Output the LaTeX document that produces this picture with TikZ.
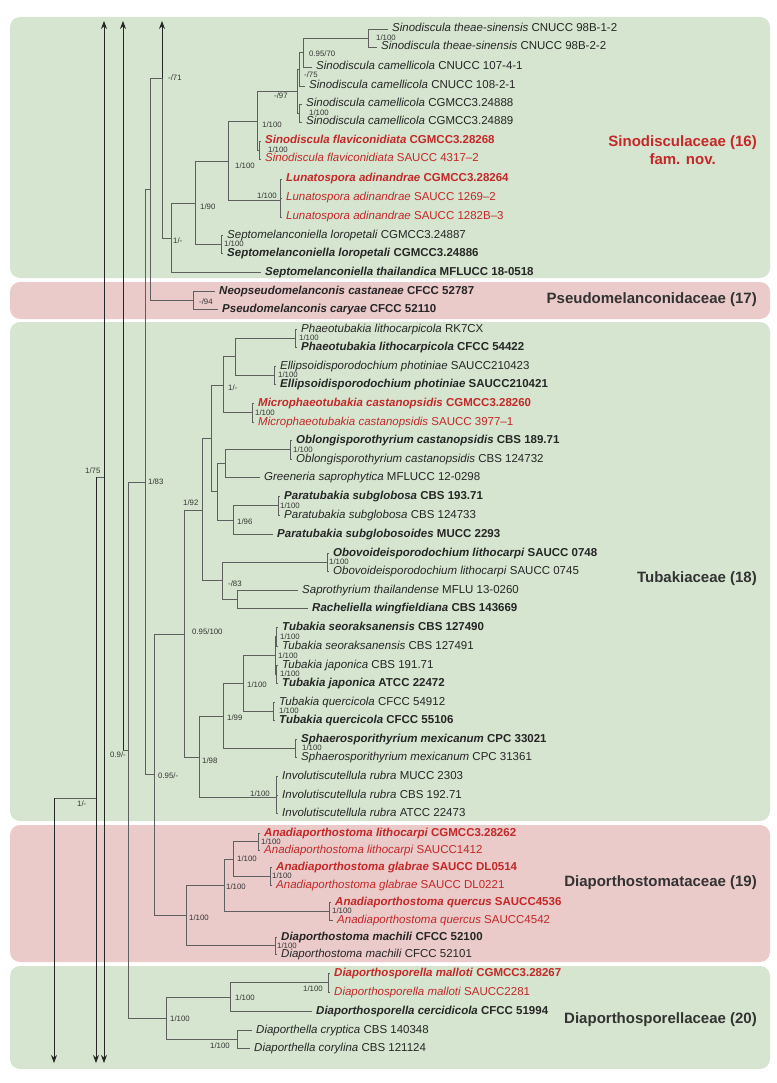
\documentclass[tikz,border=0pt]{standalone}
\usepackage{fontspec}
\setmainfont{Liberation Sans}
\usetikzlibrary{arrows.meta}
\definecolor{cladegreen}{RGB}{214,229,207}
\definecolor{cladepink}{RGB}{235,202,202}
\definecolor{newred}{RGB}{196,40,40}
\definecolor{branchgray}{RGB}{95,95,95}
\newcommand{\taxon}[2]{\textit{#1} #2}

\begin{document}
\begin{tikzpicture}[x=1pt,y=-1pt,
		branch/.style={draw=branchgray,line width=0.9pt},
		cut/.style={draw=black!85,line width=0.9pt,-{Stealth[length=8pt,width=6pt]}},
		tip/.style={anchor=west,inner xsep=4pt,inner ysep=0pt,text height=8pt,text depth=2pt,font=\fontsize{11.5}{13}\selectfont,text=black!85},
		tipb/.style={tip,font=\fontsize{11.5}{13}\selectfont\bfseries},
		tipr/.style={tip,text=newred},
		tiprb/.style={tipb,text=newred},
		bs/.style={anchor=west,inner sep=0pt,text height=5.6pt,text depth=0pt,font=\fontsize{7.8}{9}\selectfont,text=black!80},
		fam/.style={anchor=east,align=center,inner sep=0pt,font=\fontsize{15}{18}\selectfont\bfseries,text=black!80}]
		\useasboundingbox (0,0) rectangle (776,1083);

		% clade panels
		\fill[cladegreen,rounded corners=10pt] (10,17) rectangle (770,278);
		\fill[cladepink,rounded corners=10pt] (10,282) rectangle (770,319);
		\fill[cladegreen,rounded corners=10pt] (10,322) rectangle (770,821);
		\fill[cladepink,rounded corners=10pt] (10,825) rectangle (770,962);
		\fill[cladegreen,rounded corners=10pt] (10,966) rectangle (770,1069);

		% leaves
		\node[tip] (s1) at (388,29) {\taxon{Sinodiscula theae-sinensis}{CNUCC 98B-1-2}};
		\node[tip] (s2) at (377,47) {\taxon{Sinodiscula theae-sinensis}{CNUCC 98B-2-2}};
		\node[tip] (s3) at (312,67) {\taxon{Sinodiscula camellicola}{CNUCC 107-4-1}};
		\node[tip] (s4) at (305,86) {\taxon{Sinodiscula camellicola}{CNUCC 108-2-1}};
		\node[tip] (s5) at (302,104) {\taxon{Sinodiscula camellicola}{CGMCC3.24888}};
		\node[tip] (s6) at (302,122) {\taxon{Sinodiscula camellicola}{CGMCC3.24889}};
		\node[tiprb] (s7) at (261,141) {\taxon{Sinodiscula flaviconidiata}{CGMCC3.28268}};
		\node[tipr] (s8) at (261,159) {\taxon{Sinodiscula flaviconidiata}{SAUCC 4317–2}};
		\node[tiprb] (s9) at (282,179) {\taxon{Lunatospora adinandrae}{CGMCC3.28264}};
		\node[tipr] (s10) at (282,198) {\taxon{Lunatospora adinandrae}{SAUCC 1269–2}};
		\node[tipr] (s11) at (282,217) {\taxon{Lunatospora adinandrae}{SAUCC 1282B–3}};
		\node[tip] (s12) at (223,235) {\taxon{Septomelanconiella loropetali}{CGMCC3.24887}};
		\node[tipb] (s13) at (223,253) {\taxon{Septomelanconiella loropetali}{CGMCC3.24886}};
		\node[tipb] (s14) at (261,272) {\taxon{Septomelanconiella thailandica}{MFLUCC 18-0518}};
		\node[tipb] (s15) at (215,291) {\taxon{Neopseudomelanconis castaneae}{CFCC 52787}};
		\node[tipb] (s16) at (218,309) {\taxon{Pseudomelanconis caryae}{CFCC 52110}};
		\node[tip] (s17) at (297,329) {\taxon{Phaeotubakia lithocarpicola}{RK7CX}};
		\node[tipb] (s18) at (297,347) {\taxon{Phaeotubakia lithocarpicola}{CFCC 54422}};
		\node[tip] (s19) at (276,366) {\taxon{Ellipsoidisporodochium photiniae}{SAUCC210423}};
		\node[tipb] (s20) at (276,384) {\taxon{Ellipsoidisporodochium photiniae}{SAUCC210421}};
		\node[tiprb] (s21) at (254,403) {\taxon{Microphaeotubakia castanopsidis}{CGMCC3.28260}};
		\node[tipr] (s22) at (254,422) {\taxon{Microphaeotubakia castanopsidis}{SAUCC 3977–1}};
		\node[tipb] (s23) at (292,440) {\taxon{Oblongisporothyrium castanopsidis}{CBS 189.71}};
		\node[tip] (s24) at (292,459) {\taxon{Oblongisporothyrium castanopsidis}{CBS 124732}};
		\node[tip] (s25) at (260,477) {\taxon{Greeneria saprophytica}{MFLUCC 12-0298}};
		\node[tipb] (s26) at (280,496) {\taxon{Paratubakia subglobosa}{CBS 193.71}};
		\node[tip] (s27) at (280,515) {\taxon{Paratubakia subglobosa}{CBS 124733}};
		\node[tipb] (s28) at (273,534) {\taxon{Paratubakia subglobosoides}{MUCC 2293}};
		\node[tipb] (s29) at (329,553) {\taxon{Obovoideisporodochium lithocarpi}{SAUCC 0748}};
		\node[tip] (s30) at (329,571) {\taxon{Obovoideisporodochium lithocarpi}{SAUCC 0745}};
		\node[tip] (s31) at (298,590) {\taxon{Saprothyrium thailandense}{MFLU 13-0260}};
		\node[tipb] (s32) at (308,608) {\taxon{Racheliella wingfieldiana}{CBS 143669}};
		\node[tipb] (s33) at (278,627) {\taxon{Tubakia seoraksanensis}{CBS 127490}};
		\node[tip] (s34) at (278,646) {\taxon{Tubakia seoraksanensis}{CBS 127491}};
		\node[tip] (s35) at (278,665) {\taxon{Tubakia japonica}{CBS 191.71}};
		\node[tipb] (s36) at (278,683) {\taxon{Tubakia japonica}{ATCC 22472}};
		\node[tip] (s37) at (275,702) {\taxon{Tubakia quercicola}{CFCC 54912}};
		\node[tipb] (s38) at (275,720) {\taxon{Tubakia quercicola}{CFCC 55106}};
		\node[tipb] (s39) at (297,739) {\taxon{Sphaerosporithyrium mexicanum}{CPC 33021}};
		\node[tip] (s40) at (297,757) {\taxon{Sphaerosporithyrium mexicanum}{CPC 31361}};
		\node[tip] (s41) at (278,776) {\taxon{Involutiscutellula rubra}{MUCC 2303}};
		\node[tip] (s42) at (278,795) {\taxon{Involutiscutellula rubra}{CBS 192.71}};
		\node[tip] (s43) at (278,813) {\taxon{Involutiscutellula rubra}{ATCC 22473}};
		\node[tiprb] (s44) at (260,833) {\taxon{Anadiaporthostoma lithocarpi}{CGMCC3.28262}};
		\node[tipr] (s45) at (260,850) {\taxon{Anadiaporthostoma lithocarpi}{SAUCC1412}};
		\node[tiprb] (s46) at (272,867) {\taxon{Anadiaporthostoma glabrae}{SAUCC DL0514}};
		\node[tipr] (s47) at (272,885) {\taxon{Anadiaporthostoma glabrae}{SAUCC DL0221}};
		\node[tiprb] (s48) at (331,902) {\taxon{Anadiaporthostoma quercus}{SAUCC4536}};
		\node[tipr] (s49) at (333,920) {\taxon{Anadiaporthostoma quercus}{SAUCC4542}};
		\node[tipb] (s50) at (277,937) {\taxon{Diaporthostoma machili}{CFCC 52100}};
		\node[tip] (s51) at (277,954) {\taxon{Diaporthostoma machili}{CFCC 52101}};
		\node[tiprb] (s52) at (330,973) {\taxon{Diaporthosporella malloti}{CGMCC3.28267}};
		\node[tipr] (s53) at (330,992) {\taxon{Diaporthosporella malloti}{SAUCC2281}};
		\node[tipb] (s54) at (312,1011) {\taxon{Diaporthosporella cercidicola}{CFCC 51994}};
		\node[tip] (s55) at (252,1030) {\taxon{Diaporthella cryptica}{CBS 140348}};
		\node[tip] (s56) at (250,1048) {\taxon{Diaporthella corylina}{CBS 121124}};

		% internal nodes
		\coordinate (nT) at (368,38);
		\coordinate (n95) at (303,52.5);
		\coordinate (n75) at (299.5,69);
		\coordinate (nCG) at (299.5,113);
		\coordinate (n97) at (297,91);
		\coordinate (nFl) at (259,150);
		\coordinate (nS) at (257,121);
		\coordinate (nLu) at (280,200);
		\coordinate (nSL) at (228,161);
		\coordinate (nSp) at (221,244);
		\coordinate (n90) at (195,203);
		\coordinate (n1m) at (171,238);
		\coordinate (n71) at (162,78);
		\coordinate (nPs) at (193,300);
		\coordinate (nX) at (150,189);
		\coordinate (n83) at (145,482);
		\coordinate (nPh) at (295,338);
		\coordinate (nEl) at (274,375);
		\coordinate (nPE) at (235,356.5);
		\coordinate (nMi) at (252,412.5);
		\coordinate (n1d) at (223,385);
		\coordinate (nOb) at (290,449.5);
		\coordinate (nOG) at (225,463);
		\coordinate (nPa) at (278,505.5);
		\coordinate (n96) at (233,520);
		\coordinate (nB) at (217,491.5);
		\coordinate (nA) at (211,438);
		\coordinate (nOv) at (327,562);
		\coordinate (nSR) at (237,599);
		\coordinate (n83b) at (222,580.5);
		\coordinate (n92) at (202,510);
		\coordinate (nTa) at (276.5,636.5);
		\coordinate (nTb) at (276.5,674);
		\coordinate (nTj) at (275,655);
		\coordinate (nTq) at (273,711);
		\coordinate (nTu) at (243,683);
		\coordinate (nSh) at (295,748);
		\coordinate (n99) at (223,716);
		\coordinate (nIn) at (276,797);
		\coordinate (n98) at (199,757);
		\coordinate (n951) at (184,634);
		\coordinate (nAl) at (258,841.5);
		\coordinate (nAg) at (270,876);
		\coordinate (nAlg) at (233,859);
		\coordinate (nAq) at (329,911);
		\coordinate (nAn) at (224,885);
		\coordinate (nDm) at (275,945.5);
		\coordinate (nD19) at (186,915);
		\coordinate (n095) at (154,774);
		\coordinate (nMa) at (328,982.5);
		\coordinate (nDs) at (230,997);
		\coordinate (nDc) at (237,1039);
		\coordinate (nD20) at (166,1018);
		\coordinate (n09) at (128,750);
		\coordinate (k123) at (123,750);
		\coordinate (k75) at (104,477);
		\coordinate (k96) at (96,477);
		\coordinate (k96b) at (96,798);
		\coordinate (k54) at (54,798);
		\coordinate (up1) at (104,21);
		\coordinate (up2) at (123,21);
		\coordinate (up3) at (162,21);
		\coordinate (dn1) at (54,1063);
		\coordinate (dn2) at (96,1063);
		\coordinate (dn3) at (104,1063);

		% branches
		\draw[branch] (nT) |- (s1.west) (nT) |- (s2.west);
		\draw[branch] (n95) |- (nT) (n95) |- (s3.west);
		\draw[branch] (n75) |- (n95) (n75) |- (s4.west);
		\draw[branch] (nCG) |- (s5.west) (nCG) |- (s6.west);
		\draw[branch] (n97) |- (n75) (n97) |- (nCG);
		\draw[branch] (nFl) |- (s7.west) (nFl) |- (s8.west);
		\draw[branch] (nS) |- (n97) (nS) |- (nFl);
		\draw[branch] (nLu) |- (s9.west) (nLu) |- (s10.west) (nLu) |- (s11.west);
		\draw[branch] (nSL) |- (nS) (nSL) |- (nLu);
		\draw[branch] (nSp) |- (s12.west) (nSp) |- (s13.west);
		\draw[branch] (n90) |- (nSL) (n90) |- (nSp);
		\draw[branch] (n1m) |- (n90) (n1m) |- (s14.west);
		\draw[branch] (n71) |- (n1m);
		\draw[branch] (nPs) |- (s15.west) (nPs) |- (s16.west);
		\draw[branch] (nX) |- (n71) (nX) |- (nPs);
		\draw[branch] (nPh) |- (s17.west) (nPh) |- (s18.west);
		\draw[branch] (nEl) |- (s19.west) (nEl) |- (s20.west);
		\draw[branch] (nPE) |- (nPh) (nPE) |- (nEl);
		\draw[branch] (nMi) |- (s21.west) (nMi) |- (s22.west);
		\draw[branch] (n1d) |- (nPE) (n1d) |- (nMi);
		\draw[branch] (nOb) |- (s23.west) (nOb) |- (s24.west);
		\draw[branch] (nOG) |- (nOb) (nOG) |- (s25.west);
		\draw[branch] (nPa) |- (s26.west) (nPa) |- (s27.west);
		\draw[branch] (n96) |- (nPa) (n96) |- (s28.west);
		\draw[branch] (nB) |- (nOG) (nB) |- (n96);
		\draw[branch] (nA) |- (n1d) (nA) |- (nB);
		\draw[branch] (nOv) |- (s29.west) (nOv) |- (s30.west);
		\draw[branch] (nSR) |- (s31.west) (nSR) |- (s32.west);
		\draw[branch] (n83b) |- (nOv) (n83b) |- (nSR);
		\draw[branch] (n92) |- (nA) (n92) |- (n83b);
		\draw[branch] (nTa) |- (s33.west) (nTa) |- (s34.west);
		\draw[branch] (nTb) |- (s35.west) (nTb) |- (s36.west);
		\draw[branch] (nTj) |- (nTa) (nTj) |- (nTb);
		\draw[branch] (nTq) |- (s37.west) (nTq) |- (s38.west);
		\draw[branch] (nTu) |- (nTj) (nTu) |- (nTq);
		\draw[branch] (nSh) |- (s39.west) (nSh) |- (s40.west);
		\draw[branch] (n99) |- (nTu) (n99) |- (nSh);
		\draw[branch] (nIn) |- (s41.west) (nIn) |- (s42.west) (nIn) |- (s43.west);
		\draw[branch] (n98) |- (n99) (n98) |- (nIn);
		\draw[branch] (n951) |- (n92) (n951) |- (n98);
		\draw[branch] (nAl) |- (s44.west) (nAl) |- (s45.west);
		\draw[branch] (nAg) |- (s46.west) (nAg) |- (s47.west);
		\draw[branch] (nAlg) |- (nAl) (nAlg) |- (nAg);
		\draw[branch] (nAq) |- (s48.west) (nAq) |- (s49.west);
		\draw[branch] (nAn) |- (nAlg) (nAn) |- (nAq);
		\draw[branch] (nDm) |- (s50.west) (nDm) |- (s51.west);
		\draw[branch] (nD19) |- (nAn) (nD19) |- (nDm);
		\draw[branch] (n095) |- (n951) (n095) |- (nD19);
		\draw[branch] (n83) |- (nX) (n83) |- (n095);
		\draw[branch] (nMa) |- (s52.west) (nMa) |- (s53.west);
		\draw[branch] (nDs) |- (nMa) (nDs) |- (s54.west);
		\draw[branch] (nDc) |- (s55.west) (nDc) |- (s56.west);
		\draw[branch] (nD20) |- (nDs) (nD20) |- (nDc);
		\draw[branch] (n09) |- (n83) (n09) |- (nD20);
		\draw[branch] (k123) -- (n09);
		\draw[branch] (k75) -- (k96);
		\draw[branch] (k96b) -- (k54);

		% cut branches
		\draw[cut] (n71) -- (up3);
		\draw[cut] (k123) -- (up2);
		\draw[cut] (k75) -- (up1);
		\draw[cut] (k75) -- (dn3);
		\draw[cut] (k96) -- (dn2);
		\draw[cut] (k54) -- (dn1);

		% support values
		\node[bs] (b1) at (376,38) {1/100};
		\node[bs] (b2) at (309,54) {0.95/70};
		\node[bs] (b3) at (304,75) {-/75};
		\node[bs] (b4) at (309,113) {1/100};
		\node[bs] (b5) at (274,96) {-/97};
		\node[bs] (b6) at (268,150) {1/100};
		\node[bs] (b7) at (262,125) {1/100};
		\node[bs] (b8) at (235,166) {1/100};
		\node[bs] (b9) at (257,196) {1/100};
		\node[bs] (b10) at (200,207) {1/90};
		\node[bs] (b11) at (224,244) {1/100};
		\node[bs] (b12) at (173,241) {1/-};
		\node[bs] (b13) at (168,78) {-/71};
		\node[bs] (b14) at (199,302) {-/94};
		\node[bs] (b15) at (148,482) {1/83};
		\node[bs] (b16) at (299,338) {1/100};
		\node[bs] (b17) at (278,375) {1/100};
		\node[bs] (b18) at (255,412.5) {1/100};
		\node[bs] (b19) at (228,388) {1/-};
		\node[bs] (b20) at (293,449.5) {1/100};
		\node[bs] (b21) at (280,505.5) {1/100};
		\node[bs] (b22) at (237,522) {1/96};
		\node[bs] (b23) at (183,503) {1/92};
		\node[bs] (b24) at (329,562) {1/100};
		\node[bs] (b25) at (228,584) {-/83};
		\node[bs] (b26) at (192,632) {0.95/100};
		\node[bs] (b27) at (280,636.5) {1/100};
		\node[bs] (b28) at (278,655.5) {1/100};
		\node[bs] (b29) at (280,674) {1/100};
		\node[bs] (b30) at (279,711) {1/100};
		\node[bs] (b31) at (247,685) {1/100};
		\node[bs] (b32) at (302,748) {1/100};
		\node[bs] (b33) at (227,718) {1/99};
		\node[bs] (b34) at (250,794) {1/100};
		\node[bs] (b35) at (202,761) {1/98};
		\node[bs] (b36) at (158,776) {0.95/-};
		\node[bs] (b37) at (261,841.5) {1/100};
		\node[bs] (b38) at (272,876) {1/100};
		\node[bs] (b39) at (237,859) {1/100};
		\node[bs] (b40) at (332,911) {1/100};
		\node[bs] (b41) at (226,887) {1/100};
		\node[bs] (b42) at (277,945.5) {1/100};
		\node[bs] (b43) at (189,918) {1/100};
		\node[bs] (b44) at (303,989) {1/100};
		\node[bs] (b45) at (235,998) {1/100};
		\node[bs] (b46) at (210,1046) {1/100};
		\node[bs] (b47) at (170,1019) {1/100};
		\node[bs] (b48) at (110,755) {0.9/-};
		\node[bs] (b49) at (85,471) {1/75};
		\node[bs] (b50) at (77,804) {1/-};

		% family names
		\node[fam,text=newred] (f16) at (757,150) {Sinodisculaceae (16)\\fam. nov.};
		\node[fam] (f17) at (757,300) {Pseudomelanconidaceae (17)};
		\node[fam] (f18) at (757,579) {Tubakiaceae (18)};
		\node[fam] (f19) at (757,883) {Diaporthostomataceae (19)};
		\node[fam] (f20) at (757,1020) {Diaporthosporellaceae (20)};
	\end{tikzpicture}
\end{document}
